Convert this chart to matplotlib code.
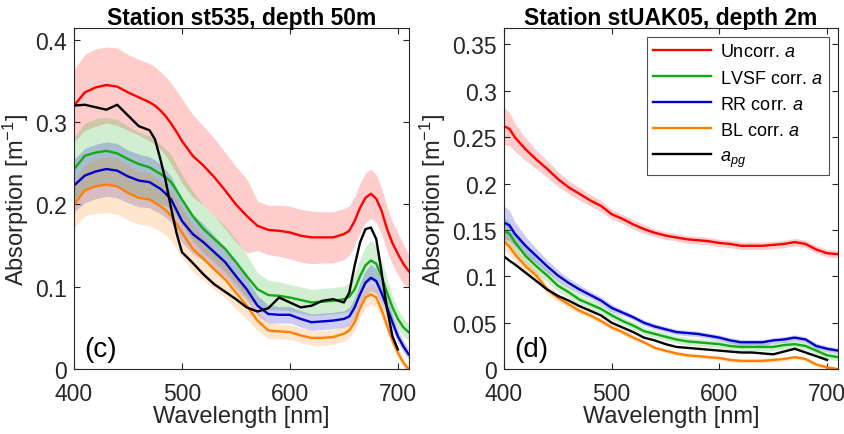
import numpy as np
import matplotlib
matplotlib.use("Agg")
import matplotlib.pyplot as plt
from matplotlib.ticker import FuncFormatter

plt.rcParams['font.family'] = ['Liberation Sans', 'DejaVu Sans']
plt.rcParams['mathtext.fontset'] = 'custom'
plt.rcParams['mathtext.it'] = 'Liberation Sans:italic'
plt.rcParams['mathtext.rm'] = 'Liberation Sans'

#Panel (c): station st535, depth 50m
wl_c = [400, 410, 420, 430, 440, 450, 460, 470, 475, 480, 485, 490, 495, 500, 510, 520, 530, 540,
        550, 560, 570, 580, 590, 600, 610, 620, 630, 640, 650, 655, 660, 665, 670, 675,
        680, 685, 690, 695, 700, 705, 710]
uncorr_c = [.320, .336, .342, .345, .343, .336, .330, .324, .320, .314, .307, .298, .288, .277, .259, .247, .233, .217,
            .200, .186, .174, .169, .168, .166, .162, .160, .160, .160, .164, .168, .180, .196, .208, .213,
            .207, .192, .170, .153, .140, .128, .119]
uncorr_c_sd = [.044, .046, .047, .046, .047, .046, .046, .047, .047, .047, .048, .049, .050, .051, .050, .048, .047, .046,
               .046, .045, .030, .030, .031, .032, .032, .032, .031, .031, .031, .030, .030, .030, .030, .030,
               .029, .028, .027, .026, .025, .024, .020]
lvsf_c = [.243, .259, .263, .265, .262, .255, .249, .245, .241, .237, .233, .227, .217, .206, .186, .170, .158, .146,
          .130, .113, .097, .090, .089, .087, .084, .081, .082, .083, .085, .088, .097, .113, .126, .132,
          .128, .112, .093, .075, .061, .051, .045]
lvsf_c_sd = [.038, .040, .041, .041, .041, .040, .039, .038, .037, .036, .034, .033, .031, .030, .030, .029, .028, .028,
             .027, .026, .020, .018, .017, .016, .016, .016, .016, .016, .016, .017, .019, .021, .023, .024,
             .023, .020, .017, .014, .012, .011, .010]
rr_c = [.223, .235, .240, .243, .241, .234, .229, .227, .223, .219, .213, .206, .193, .180, .164, .154, .142, .130,
        .113, .097, .077, .067, .066, .066, .061, .057, .058, .059, .061, .064, .075, .091, .105, .111,
        .107, .092, .075, .057, .040, .028, .018]
rr_c_sd = [.032, .033, .033, .033, .033, .032, .032, .031, .031, .030, .029, .028, .027, .026, .024, .022, .020, .018,
           .016, .014, .012, .011, .010, .010, .010, .010, .010, .010, .010, .011, .012, .014, .015, .016,
           .015, .013, .011, .009, .008, .007, .006]
bl_c = [.200, .217, .222, .224, .222, .214, .208, .206, .202, .198, .193, .186, .176, .166, .146, .134, .121, .109,
        .093, .077, .059, .047, .046, .045, .041, .038, .038, .039, .043, .047, .057, .074, .087, .091,
        .087, .072, .053, .035, .020, .008, .000]
bl_c_sd = [.028, .031, .033, .034, .034, .033, .032, .032, .031, .031, .030, .030, .030, .030, .028, .026, .024, .022,
           .020, .016, .012, .010, .009, .009, .009, .009, .009, .009, .009, .009, .010, .011, .012, .012,
           .012, .010, .008, .007, .006, .005, .005]
apg_c = [.320, .321, .318, .315, .321, .308, .295, .290, .279, .255, .228, .195, .165, .142, .129, .115, .103, .094,
         .085, .075, .070, .074, .087, .081, .075, .077, .083, .085, .081, .093, .126, .154, .170, .172,
         .158, .117, .073, .040, .024, np.nan, np.nan]

#Panel (d): station stUAK05, depth 2m
wl_d = [400, 405, 410, 420, 430, 440, 450, 460, 470, 480, 490, 500, 510, 520, 530, 540, 550, 560,
        570, 580, 590, 600, 610, 620, 630, 640, 650, 660, 670, 680, 690, 700, 710]
uncorr_d = [.262, .259, .250, .237, .226, .216, .205, .196, .189, .182, .176, .167, .162, .156, .151, .147, .144, .142,
            .140, .139, .138, .136, .135, .133, .133, .133, .134, .135, .137, .135, .129, .125, .124]
uncorr_d_sd = [.020, .018, .015, .012, .010, .009, .008, .007, .007, .006, .006, .005, .005, .005, .005, .004, .004, .004,
               .004, .004, .004, .004, .004, .004, .004, .004, .004, .004, .004, .004, .004, .004, .004]
lvsf_d = [.149, .146, .137, .122, .111, .101, .090, .083, .075, .070, .065, .058, .052, .047, .041, .038, .035, .032,
          .030, .029, .028, .027, .025, .024, .024, .024, .024, .026, .027, .025, .020, .015, .013]
lvsf_d_sd = [.015, .013, .011, .009, .008, .007, .006, .006, .005, .005, .005, .005, .004, .004, .004, .004, .004, .004,
             .004, .004, .004, .004, .004, .004, .004, .004, .004, .004, .004, .004, .004, .004, .004]
rr_d = [.158, .155, .146, .133, .122, .111, .101, .093, .086, .080, .074, .066, .061, .056, .050, .046, .043, .040,
        .039, .038, .036, .034, .031, .029, .029, .029, .031, .032, .034, .032, .025, .022, .020]
rr_d_sd = [.018, .016, .013, .010, .008, .007, .006, .005, .005, .004, .004, .004, .003, .003, .003, .003, .003, .003,
           .003, .003, .003, .003, .003, .003, .003, .003, .003, .003, .003, .003, .003, .003, .003]
bl_d = [.138, .132, .124, .111, .101, .086, .077, .070, .063, .058, .052, .045, .040, .034, .029, .023, .020, .017,
        .015, .014, .013, .012, .010, .009, .009, .009, .010, .011, .013, .011, .005, .002, .000]
bl_d_sd = [.010, .009, .008, .007, .006, .005, .004, .004, .003, .003, .003, .003, .003, .003, .002, .002, .002, .002,
           .002, .002, .002, .002, .002, .002, .002, .002, .002, .002, .002, .002, .002, .002, .002]
apg_d = [.1215, .117, .113, .104, .095, .086, .079, .074, .068, .063, .058, .050, .045, .040, .034, .031, .027, .024,
         .023, .022, .021, .020, .019, .018, .018, .017, .016, .019, .022, .018, .014, .010, np.nan]

#Colours of each series
colors = {'uncorr': '#ff0000', 'lvsf': '#14aa14', 'rr': '#0000c8', 'bl': '#ff8000', 'apg': '#000000'}
labels = {'uncorr': 'Uncorr. $a$', 'lvsf': 'LVSF corr. $a$', 'rr': 'RR corr. $a$',
          'bl': 'BL corr. $a$', 'apg': '$a_{pg}$'}
text_color = '#262626'


def draw_panel(ax, wl, series, apg, title, tag, ylim, yticks):
    wl = np.array(wl)
    #Shaded std bands first
    for key, (mean, sd) in series.items():
        mean = np.array(mean)
        sd = np.array(sd)
        ax.fill_between(wl, mean - sd, mean + sd, color=colors[key], alpha=0.2, linewidth=0)
    #Then the mean curves
    for key, (mean, sd) in series.items():
        ax.plot(wl, mean, color=colors[key], linewidth=1.7, label=labels[key])
    ax.plot(wl, apg, color=colors['apg'], linewidth=1.7, label=labels['apg'])

    ax.set_xlim(400, 710)
    ax.set_ylim(*ylim)
    ax.set_xticks([400, 500, 600, 700])
    ax.set_yticks(yticks)
    ax.yaxis.set_major_formatter(FuncFormatter(lambda v, p: '%g' % round(v, 3)))
    ax.tick_params(direction='in', top=True, right=True, labelsize=16.5, colors=text_color,
                   length=4, width=0.8)
    ax.tick_params(axis='x', pad=9)
    ax.tick_params(axis='y', pad=5)
    for sp in ax.spines.values():
        sp.set_color(text_color)
        sp.set_linewidth(0.8)
    ax.set_xlabel('Wavelength [nm]', fontsize=17, color=text_color, labelpad=0)
    ax.set_ylabel('Absorption [m$^{-1}$]', fontsize=17, color=text_color, labelpad=3)
    ax.set_title(title, fontsize=16.5, fontweight='bold', pad=3)
    ax.text(0.03, 0.02, tag, transform=ax.transAxes, fontsize=20, color='black',
            ha='left', va='bottom')


fig = plt.figure(figsize=(8.45, 4.35), dpi=100)
ax_c = fig.add_axes([0.0876, 0.149, 0.396, 0.784])
ax_d = fig.add_axes([0.5965, 0.149, 0.395, 0.784])

draw_panel(ax_c, wl_c,
           {'uncorr': (uncorr_c, uncorr_c_sd), 'lvsf': (lvsf_c, lvsf_c_sd),
            'rr': (rr_c, rr_c_sd), 'bl': (bl_c, bl_c_sd)},
           apg_c, 'Station st535, depth 50m', '(c)', (0, 0.414), [0, 0.1, 0.2, 0.3, 0.4])
draw_panel(ax_d, wl_d,
           {'uncorr': (uncorr_d, uncorr_d_sd), 'lvsf': (lvsf_d, lvsf_d_sd),
            'rr': (rr_d, rr_d_sd), 'bl': (bl_d, bl_d_sd)},
           apg_d, 'Station stUAK05, depth 2m', '(d)', (0, 0.3676),
           [0, 0.05, 0.1, 0.15, 0.2, 0.25, 0.3, 0.35])

#Legend only on the right panel
leg = ax_d.legend(loc='upper right', fontsize=13, frameon=True, fancybox=False,
                  edgecolor=text_color, handlelength=3.2, borderaxespad=0.5,
                  labelspacing=0.5, borderpad=0.35, handletextpad=0.5)
leg.get_frame().set_linewidth(0.8)

plt.savefig('out.png', dpi=100)
